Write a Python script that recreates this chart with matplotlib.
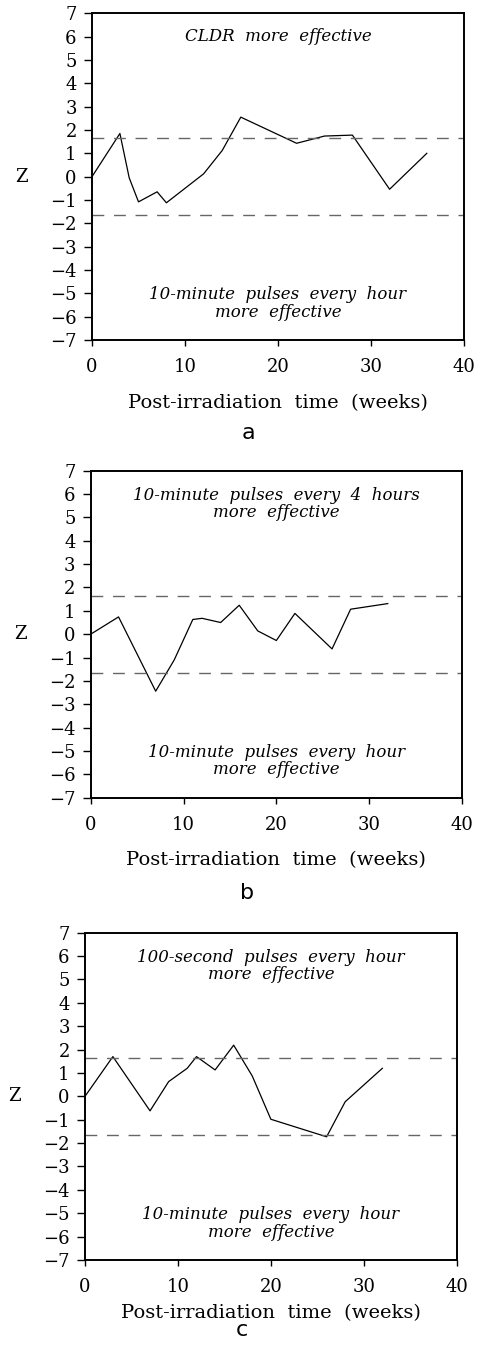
import matplotlib
matplotlib.use("Agg")
import matplotlib.pyplot as plt

# Z statistic vs post-irradiation time, three comparisons
weeks_a = [0, 3, 4, 5, 7, 8, 12, 14, 16, 22, 25, 28, 32, 36]
z_a = [0.0, 1.85, -0.05, -1.08, -0.65, -1.12, 0.12, 1.12, 2.55, 1.43, 1.74, 1.78, -0.54, 1.0]

weeks_b = [0, 3, 7, 9, 11, 12, 14, 16, 18, 20, 22, 26, 28, 32]
z_b = [0.0, 0.74, -2.44, -1.1, 0.63, 0.68, 0.5, 1.24, 0.14, -0.27, 0.89, -0.63, 1.07, 1.31]

weeks_c = [0, 3, 7, 9, 11, 12, 14, 16, 18, 20, 26, 28, 32]
z_c = [0.0, 1.7, -0.62, 0.63, 1.2, 1.7, 1.13, 2.19, 0.87, -0.98, -1.73, -0.23, 1.2]

z_crit = 1.65
upper_text = ["CLDR  more  effective",
              "10-minute  pulses  every  4  hours\nmore  effective",
              "100-second  pulses  every  hour\nmore  effective"]
lower_text = "10-minute  pulses  every  hour\nmore  effective"
xlabel = "Post-irradiation  time  (weeks)"
panel_tags = ["a", "b", "c"]

W, H = 485, 1361
# axes boxes in pixels: left, right, top, bottom
boxes = [(92, 464, 13.3, 340), (90.7, 462, 470.7, 797.7), (85, 456.7, 932.7, 1260)]
# pixel offsets below the axes for x label and panel letter
xlab_off = [63, 62, 53]
tag_off = [93, 95, 70]

fig = plt.figure(figsize=(W / 100, H / 100), dpi=100)
serif = "DejaVu Serif"

for i, (xs, ys) in enumerate([(weeks_a, z_a), (weeks_b, z_b), (weeks_c, z_c)]):
    l, r, t, b = boxes[i]
    ax = fig.add_axes([l / W, 1 - b / H, (r - l) / W, (b - t) / H])
    ax.plot(xs, ys, color="black", lw=0.9)
    for zc in (z_crit, -z_crit):
        ax.axhline(zc, color="0.4", lw=1.0, dashes=(8.5, 7))
    ax.set_xlim(0, 40)
    ax.set_ylim(-7, 7)
    ax.set_xticks(range(0, 41, 10))
    ax.set_yticks(range(-7, 8))
    ax.tick_params(direction="out", length=5, width=1, labelsize=13)
    ax.tick_params(axis="y", length=6, pad=5)
    ax.tick_params(axis="x", length=4, pad=9)
    for lab in ax.get_xticklabels() + ax.get_yticklabels():
        lab.set_fontfamily(serif)
    for sp in ax.spines.values():
        sp.set_linewidth(1.4)
    ax.set_ylabel("Z", rotation=0, fontsize=13, family=serif, va="center")
    ax.yaxis.set_label_coords(-0.19, 0.5)

    cx = (l + r) / 2 / W
    fig.text(cx, 1 - (b + xlab_off[i]) / H, xlabel, ha="center", va="center",
             fontsize=14, family=serif)
    fig.text(cx - 0.06, 1 - (b + tag_off[i]) / H, panel_tags[i], ha="center",
             va="center", fontsize=16, family="DejaVu Sans")

    up = upper_text[i]
    ax.text(20, 6.0 if "\n" not in up else 5.58, up, ha="center", va="center",
            fontsize=12, style="italic", family=serif, linespacing=1.05)
    ax.text(20, -5.43, lower_text, ha="center", va="center",
            fontsize=12, style="italic", family=serif, linespacing=1.05)

fig.savefig("out.png", dpi=100)
